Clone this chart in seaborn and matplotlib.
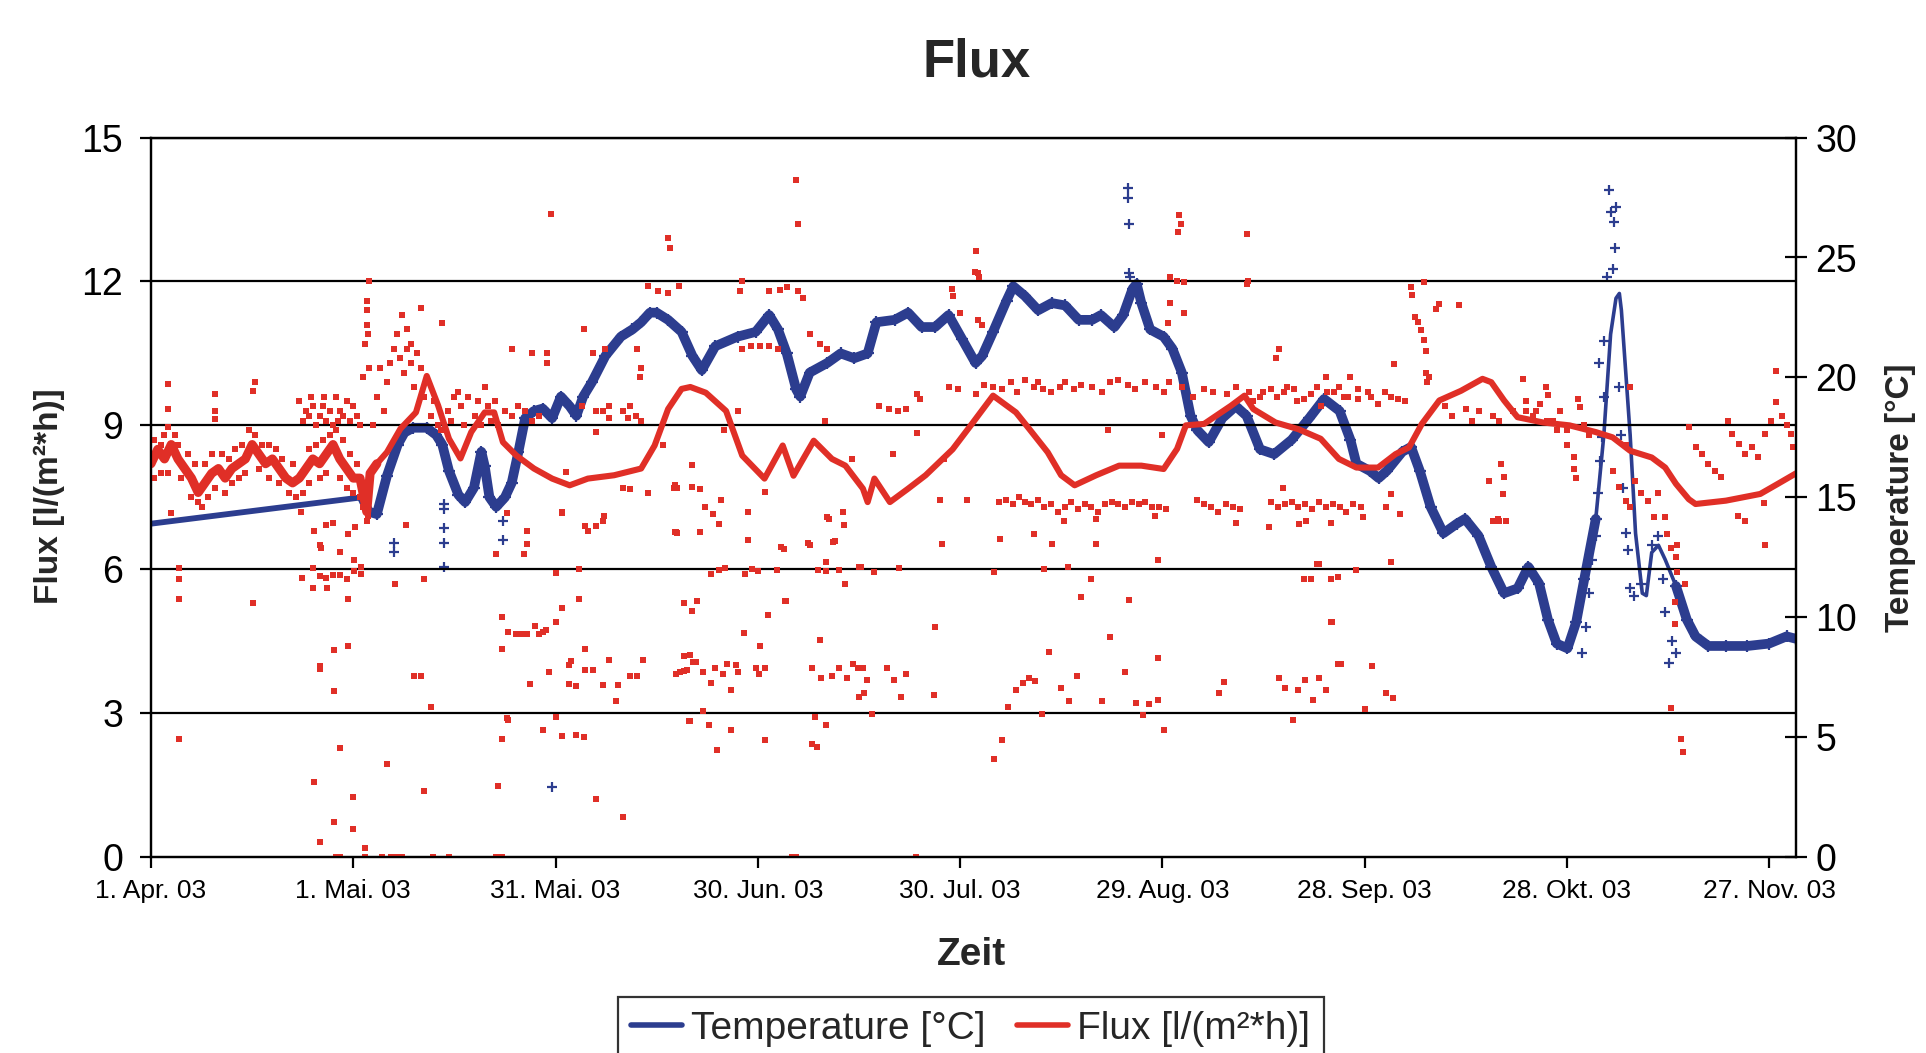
import numpy as np
import pandas as pd
import matplotlib
matplotlib.use("Agg")
import matplotlib.pyplot as plt
import seaborn as sns
from matplotlib.lines import Line2D

sns.set_theme(style="white")
plt.rcParams['font.family'] = ['Liberation Sans', 'DejaVu Sans']

# ---------------- data (x = days since 1 Apr 2003) ----------------
x_tick_days = [0, 30, 60, 90, 120, 150, 180, 210, 240]
x_tick_labels = ['1. Apr. 03', '1. Mai. 03', '31. Mai. 03', '30. Jun. 03', '30. Jul. 03',
                 '29. Aug. 03', '28. Sep. 03', '28. Okt. 03', '27. Nov. 03']
flux_ticks = [0, 3, 6, 9, 12, 15]
temp_ticks = [0, 5, 10, 15, 20, 25, 30]

# smoothed temperature line [°C]
temp_line_day = [0, 31.3, 32.3, 33.5, 35, 36.6, 37.6, 38.9, 40.9, 42.3, 43.2, 44.2, 45.6, 46.6, 47.9,
                 49, 49.5, 50.2, 51.2, 52.5, 53.5, 54.5, 55.5, 56.8, 58.1, 59.5, 60.8, 62.1, 63.1, 64.1,
                 65.4, 67.4, 69.7, 71.4, 72.7, 74, 75, 76.7, 78.7, 80.3, 81.7, 83.7, 87, 89.7, 91.7, 93,
                 94.3, 95.7, 96.3, 97.7, 100.3, 102.3, 104.3, 106.3, 107.6, 110.3, 112.3, 114.3, 116.3,
                 118.3, 120.3, 122.3, 123.3, 124.9, 126.9, 127.9, 129.6, 131.6, 133.6, 135.6, 137.6,
                 139.6, 140.9, 142.9, 144.2, 145.6, 146.2, 146.9, 148.2, 150.2, 151.5, 152.9, 154.2,
                 155.2, 156.9, 158.9, 160.9, 162.5, 164.5, 166.6, 169.2, 171.8, 174, 176.3, 177.9, 178.8,
                 180.8, 182.1, 183.3, 185.6, 186.9, 188.2, 189.8, 191.7, 193.7, 194.9, 196.9, 198.8,
                 200.7, 202.7, 204.3, 205.9, 207.2, 208.5, 210.1, 211.4, 212.6, 214.3, 215.5, 216.5,
                 217.3, 217.8, 218.1, 218.8, 219.4, 220.2, 221.2, 221.8, 222.6, 223.6, 224.6, 226.2,
                 227.8, 229.1, 231, 233.6, 236.8, 240, 242.6, 244]
temp_line_val = [13.9, 15.0, 14.4, 14.3, 15.9, 17.2, 17.7, 17.9, 17.9, 17.6, 17.2, 16.1, 15.1, 14.8, 15.4,
                 16.9, 16.3, 15.0, 14.6, 15.0, 15.6, 16.9, 18.3, 18.6, 18.7, 18.3, 19.2, 18.8, 18.4, 19.2,
                 19.8, 20.9, 21.7, 22.0, 22.3, 22.7, 22.7, 22.4, 21.9, 20.9, 20.3, 21.3, 21.7, 21.9, 22.6,
                 22.0, 21.0, 19.5, 19.2, 20.2, 20.6, 21.0, 20.8, 21.0, 22.3, 22.4, 22.7, 22.1, 22.1,
                 22.6, 21.6, 20.6, 20.9, 21.9, 23.2, 23.8, 23.4, 22.8, 23.1, 23.0, 22.4,
                 22.4, 22.6, 22.1, 22.6, 23.7, 23.9, 23.1, 22.0, 21.7, 21.2, 20.2, 18.4,
                 17.8, 17.3, 18.3, 18.8, 18.4, 17.0, 16.8, 17.4, 18.3, 19.1, 18.6, 17.4, 16.4,
                 16.1, 15.8, 16.1, 16.9, 17.1, 16.1, 14.6, 13.5, 13.9, 14.1, 13.4, 12.1,
                 11.0, 11.2, 12.1, 11.4, 9.9, 8.9, 8.7, 9.8, 11.6, 14.1, 17.6, 21.8,
                 23.3, 23.5, 22.8, 20.0, 17.6, 13.5, 11.0, 10.9, 12.7, 13.0, 12.4, 11.3,
                 9.9, 9.2, 8.8, 8.8, 8.8, 8.9, 9.2, 9.1]

# raw temperature readings that leave the band
temp_pts_day = [36, 36, 43.4, 43.4, 43.4, 43.4, 43.4, 52.2, 52.2, 59.5, 144.9, 144.9, 145.0, 145.0, 145.2,
                212.3, 212.8, 213.3, 213.8, 214.3, 214.6, 215.0, 215.2, 215.5, 214.8, 215.5, 215.9, 216.2,
                216.5, 217.3, 217.0, 217.2, 216.8, 217.8, 218.1, 218.4, 218.8, 219.1, 219.4, 220.0, 221.0,
                222.6, 223.6, 224.2, 224.6, 225.2, 226.2, 225.6]
temp_pts_val = [13.1, 12.7, 14.7, 14.5, 13.7, 13.1, 12.1, 14.0, 13.2, 2.9, 27.9, 27.5, 26.4, 24.35, 24.2,
                8.5, 9.6, 11.0, 12.4, 13.4, 15.2, 16.5, 17.5, 19.2, 20.6, 21.5, 24.2, 27.8,
                26.9, 27.1, 26.5, 25.4, 24.5, 19.6, 17.6, 15.4, 13.5, 12.8, 11.2, 10.9, 11.4,
                13.0, 13.4, 11.6, 10.2, 8.1, 8.5, 9.0]

# smoothed flux line [l/(m²*h)]
flux_line_day = [0, 1, 2, 3, 4, 5, 6, 7, 8, 9, 10, 11, 12, 13, 14, 15, 16, 17, 18, 19, 20, 21, 22, 23, 24,
                 25, 26, 27, 28, 29, 30, 31, 32, 32.5, 33.5, 35, 37, 39.3, 40.9, 42.6, 44.2, 45.9, 47.5,
                 49.5, 50.9, 52.2, 54.2, 56.8, 59.5, 62.1, 64.8, 68.7, 72.7, 74.7, 76.7, 78.7, 80, 82.3,
                 85.3, 87.7, 91, 93.7, 95.3, 98.3, 101, 103, 105.6, 106.3, 107.3, 109.6, 112.3, 114.9,
                 118.9, 121.6, 124.9, 128.3, 130.3, 133, 135, 137, 140.2, 143.6, 146.9, 150.2, 152.2,
                 153.5, 156.2, 160.2, 162.2, 163.5, 166.8, 170.2, 173.5, 176.2, 178.8, 182, 184.6,
                 186.6, 188.5, 191.1, 194.3, 197.5, 198.8, 200.7, 202.7, 206.5, 210.4, 214.3, 216.8,
                 219.4, 222.6, 224.6, 226.2, 228.1, 229.1, 233.6, 238.7, 241.3, 244]
flux_line_val = [8.2, 8.5, 8.3, 8.6, 8.3, 8.1, 7.9, 7.6, 7.8, 8.0, 8.1, 7.9, 8.1, 8.2, 8.3, 8.6, 8.4, 8.2,
                 8.3, 8.1, 7.9, 7.8, 7.9, 8.1, 8.3, 8.2, 8.4, 8.6, 8.3, 8.1, 7.9, 7.9, 7.2, 8.0, 8.2,
                 8.44, 8.93, 9.27, 10.03, 9.41, 8.72, 8.31, 8.86, 9.27, 9.27, 8.65, 8.37, 8.1, 7.89,
                 7.75, 7.89, 7.96, 8.1, 8.58, 9.34, 9.76, 9.8, 9.68, 9.3, 8.37, 7.89, 8.58, 7.95,
                 8.68, 8.3, 8.16, 7.68, 7.4, 7.89, 7.4, 7.68, 7.96, 8.5, 9.0, 9.62, 9.27, 8.92, 8.44,
                 7.96, 7.75, 7.96, 8.16, 8.16, 8.09, 8.51, 9.0, 9.03, 9.41, 9.62, 9.34, 9.06, 8.92,
                 8.72, 8.3, 8.12, 8.12, 8.4, 8.54, 9.03, 9.52, 9.72, 9.97, 9.9, 9.52, 9.17, 9.06, 9.0,
                 8.86, 8.75, 8.47, 8.33, 8.12, 7.78, 7.46, 7.36, 7.43, 7.57, 7.78, 8.0]

# single flux readings (scatter)
flux_pts_day = [
    0.5, 1.5, 2, 3.5, 4, 5.5, 6.5, 8, 9, 10.5, 11.5, 12.5, 13.5, 14.5, 15.5, 16.5, 17.5, 18.5, 19.5, 21,
    23.5, 24.5, 25.5, 26.5, 27.5, 28.5, 29.5, 30.5,
    0.5, 1.5, 2.5, 4.5, 6, 7, 7.5, 8.5, 9.5, 11, 12, 13, 14, 16, 17.5, 19, 20.5, 21.5, 22.5, 23.5, 25, 26,
    28, 29, 30, 31, 31.5, 32, 32.2,
    22.5, 23, 23.5, 24, 24.5, 25, 25.5, 26, 26.5, 27, 28, 28.5, 29, 29.5, 30, 30.5, 31, 27.5, 23.7,
    33, 33.5, 34, 34.5, 35, 35.5, 36, 36.5, 37, 37.5, 38, 38.5, 39, 39.5, 40, 40.5, 41, 41.5, 42, 42.5,
    43, 44, 44.5, 45, 46, 46.5, 47, 48, 48.5, 49, 50, 50.5, 51, 51.5, 52.5, 53.5, 54.5, 55.5, 56.5, 57.5,
    64, 66, 68, 70, 71, 72,
    4.2, 4.2, 4.2, 4.2, 15.2, 22.2, 3, 24.2, 25, 25.2, 26, 27, 28, 29.2, 30.3,
    22.4, 24, 24.1, 25, 26, 26.1, 27, 28, 29, 29.2, 30.1, 30.1, 31.1, 31.2,
    25, 25, 27.2, 29.2, 27.2, 28, 35, 24.2, 30, 27.2, 25, 30, 31.8,
    27.4, 28, 31.8, 34.3, 35.6, 36.3, 37.3, 41.9, 44.2, 51.2, 52,
    37.8, 36.2, 40.5, 39, 40.1, 41.6, 40.5, 51.5, 52, 52, 52,
    53, 54.1, 55.1, 55.8, 56.9, 57.6, 58.1, 58.6,
    51.2, 52.8, 55.4, 55.8, 55.7, 52.8, 53, 56.2, 58.1, 59, 60, 60, 60, 61, 61, 61, 62, 62.3, 62, 63.1,
    63.5, 63.5, 64.4, 64.4, 65.5, 63, 64.2, 66, 67, 69.3, 68, 69, 70, 71, 72.1, 73, 66, 67, 71, 78, 78,
    78.5, 79.5, 79.8, 79, 80.4, 79, 81,
    59.3, 76.7, 77, 32.3, 32, 32, 32.1, 32.2, 40.1, 43.2, 37.3, 37.9, 38.6, 31.7, 32.3, 31.5, 64.2, 53.5,
    56.5, 58.7, 58.7, 67.4, 65.5, 73.7, 75.2, 76.7, 78.3, 72.1, 72.7, 72.5, 2.5, 2.5, 2.5, 9.5, 9.5, 9.5,
    15.4, 15.1, 22, 25.7, 27.7, 45.6, 49.5, 67, 68, 70.7, 72.7, 64.4, 67.2, 61, 64.8, 80.3, 80.3, 77.9,
    73.7, 70, 61.5, 66,
    95.7, 95.9, 122.3, 122.6, 122.2, 122.8, 152.5, 152.8, 152.3, 162.5, 162.7, 162.5, 151.2, 152.2,
    153.2, 151.2, 153.2, 150.9, 87.7, 87.3, 91.7, 93.3, 94.3, 96, 96.7, 118.9, 118.8, 120, 122.6, 123.3,
    113.6, 114, 118.4, 119.7, 122.3, 123.6, 124.9, 126.2, 129.6, 130.9, 132.3, 134.9, 136.9, 139.6,
    142.3, 144.9, 150.2, 152.9, 156.2, 159.6, 162.9, 166.2, 169.6, 172.9, 176.2,
    127.5, 128.5, 131.5, 133.5, 135.5, 138, 141, 143.5, 146, 147.5, 149, 151, 154.5, 157.5, 161, 164.5,
    168, 171, 174.5, 177.5, 179, 181, 183, 185,
    108, 109.5, 110.8, 112, 97.7, 99.3, 100.3, 87.7, 89, 90.3, 91.7, 93,
    125.8, 126.8, 127.8, 128.8, 129.6, 130.5, 131.5, 132.5, 133.5, 134.5, 135.5, 136.5, 137.5, 138.5,
    139.5, 140.5, 141.5, 142.5, 143.5, 144.5, 145.5, 146.5, 147.5, 148.5, 149.5, 150.5, 155.2, 156.2,
    157.3, 158.3, 159.4, 160.5, 161.5, 166.2, 167.2, 168.2, 169.2, 170.2, 171.2, 172.2, 173.2, 174.3,
    175.3, 176.3, 177.3, 178.3, 179.5,
    77.7, 77.7, 81.5, 83.3, 84.3, 88.5, 93.5, 97.5, 100.2, 101.2, 102.8,
    77.6, 81.5, 82.2, 84.5, 88.5, 91, 93.9, 94, 97.8, 100.6, 101.5, 102.6, 117, 121, 117.3, 126, 131,
    133.6, 135.4, 140.2, 140.2, 148.9, 160.9,
    113.6, 117.6, 142, 150, 110, 104, 85, 87, 76, 100,
    83.1, 84.3, 85.1, 88.1, 89.1, 90, 92.8, 99, 100.1, 100.1, 102.1, 103, 105, 105.3, 107.3, 111, 125,
    132.4, 136, 139.4, 149.3, 173.2, 172, 176,
    80.2, 91.5, 88, 90.3, 99.2, 94.2, 116.3, 142.2, 145, 138, 133.2, 175.2, 176.5,
    77.8, 79, 79.9, 80.8, 81.9, 83.1, 83.7, 84.8, 85.5, 86, 86.8, 87, 89.8, 90.2, 91.1, 98, 99.4, 101,
    102.1, 103.2, 104.1, 104.8, 105.6, 106.2, 109.1, 110.2, 112, 105, 105.8, 111.2, 116.1, 127.1, 128.3,
    129.3, 130.3, 131.1, 135, 136.2, 137.4, 141.1, 144.4, 146.1, 148.1, 149.3, 149.3, 158.4, 159.2,
    167.3, 168.2, 170.2, 171.2, 172.3, 173.2, 174.3,
    79.9, 82.8, 84, 86, 81.9, 91, 98, 98.8, 98.5, 100.1, 107, 125.1, 126.3, 132.1, 147.2, 150.2, 169.4,
    95.1, 95.6, 113.4,
    167.9, 165.8, 170.3, 171.3, 175, 179.8, 183.2, 185.2, 184, 199, 200, 201, 200.6, 172.9, 171, 175,
    178.8, 184, 175, 176.1, 181.1, 183.2, 184.2, 180.1, 225.5, 227, 227.2, 227.5, 239.4, 226, 226,
    226.3, 226.3, 235.4, 236.5, 239.2,
    186.9, 187.1, 187.5, 187.9, 188.4, 188.8, 189.1, 188.8, 191.1, 190.6, 194, 189.1, 189.6, 189.2,
    167.3, 166.8, 184.3, 174.3, 177.9,
    203.5, 206.9, 207.2, 211.7, 212, 212.6, 213.3, 211, 211.3, 198.5, 199.8, 200.7, 200.3, 204, 205, 206,
    208, 209, 210, 192, 193, 195, 196, 197, 199, 200, 202,
    216.8, 217.8, 218.8, 219.4, 220.1, 221, 222, 222.9, 223.6, 224.6, 224.9, 225.5, 226.2, 218.8, 219.4,
    228.1, 229.1, 230, 231, 232, 232.9, 233.9, 234.5, 235.5, 236.5, 237.4, 238.4, 239.4, 240.3, 241,
    241, 241.9, 242.6, 243.2, 243.6,
    163.5, 165, 167, 168.5, 170, 172, 173.5, 175.5, 177, 179, 180.5, 182, 184, 186,
    204, 205.5, 207, 208.5, 210, 211]
flux_pts_val = [
    8.7, 8.6, 8.8, 8.8, 8.6, 8.4, 8.2, 8.2, 8.4, 8.4, 8.3, 8.5, 8.6, 8.9, 8.8, 8.6, 8.6, 8.5, 8.3, 8.2,
    8.5, 8.6, 8.7, 8.8, 8.9, 8.7, 8.4, 8.2,
    7.9, 8.0, 8.0, 7.9, 7.5, 7.4, 7.3, 7.5, 7.7, 7.6, 7.8, 7.9, 8.0, 8.1, 7.9, 7.8, 7.6, 7.5, 7.6, 7.8,
    7.9, 8.0, 7.9, 7.7, 7.6, 7.5, 7.3, 7.0, 7.1,
    9.1, 9.3, 9.2, 9.4, 9.0, 9.2, 9.4, 9.1, 9.3, 9.0, 9.3, 9.2, 9.5, 9.1, 9.4, 9.2, 9.0, 9.6, 9.6,
    9.0, 9.6, 10.2, 9.3, 9.9, 10.3, 10.6, 10.9, 10.4, 10.1, 10.6, 10.3, 9.8, 10.5, 10.2, 9.6, 9.9, 9.2,
    9.5, 9.0, 8.9, 9.3, 9.1, 9.6, 9.4, 9.0, 9.6, 9.2, 9.5, 9.0, 9.4, 9.1, 9.5, 9.0, 9.3, 9.2, 9.4, 9.3,
    9.1, 9.2,
    9.4, 9.3, 9.4, 9.3, 9.4, 9.2,
    6.03, 5.79, 5.37, 2.47, 5.29, 7.2, 7.18, 6.8, 6.5, 6.45, 6.92, 6.96, 6.36, 6.73, 6.89,
    5.82, 6.03, 5.6, 5.86, 5.82, 5.6, 5.88, 5.88, 5.79, 5.37, 6.2, 5.97, 6.04, 5.9,
    3.98, 3.92, 4.31, 4.4, 3.46, 2.28, 1.94, 1.57, 1.25, 0.72, 0.31, 0.59, 0.19,
    0, 0, 0, 0, 0, 0, 0, 0, 0, 0, 0,
    6.92, 5.7, 5.79, 3.77, 3.77, 3.12, 1.37, 1.49, 2.47, 4.34, 5.0,
    4.7, 4.66, 4.66, 4.66, 4.82, 4.66, 4.7, 4.73,
    6.31, 7.17, 6.31, 6.52, 6.8, 2.9, 2.85, 3.6, 2.64, 3.86, 5.93, 4.9, 2.92, 5.2, 7.17, 2.52, 4.0, 4.08,
    3.6, 3.56, 5.37, 6.0, 4.34, 3.9, 3.9, 2.55, 2.5, 1.21, 3.58, 3.58, 4.1, 3.25, 0.84, 3.77, 3.77, 4.1,
    6.9, 7.0, 7.67, 6.76, 7.7, 3.85, 3.9, 2.83, 4.2, 4.06, 5.3, 5.34,
    13.4, 12.9, 12.7, 12.0, 11.6, 11.4, 11.1, 10.9, 11.45, 11.13, 11.3, 11.0, 10.7, 10.7, 10.2, 10.0,
    11.0, 10.6, 10.5, 10.3, 10.5, 10.6, 10.5, 11.9, 11.8, 11.75, 11.9, 10.6, 10.2, 10.0, 9.86, 9.34,
    8.96, 9.65, 9.3, 9.14, 9.9, 9.72, 9.5, 9.6, 9.1, 9.7, 9.8, 9.3, 9.15, 9.15, 9.1, 6.9, 7.1, 7.2, 6.8,
    7.72, 8.17, 6.78, 7.6, 7.7, 8.03, 8.86,
    14.11, 13.19, 12.63, 12.18, 12.2, 12.1, 13.39, 13.2, 13.04, 13.0, 12.0, 11.95, 12.1, 12.0, 11.98,
    11.55, 11.35, 11.14, 12.0, 11.8, 11.8, 11.82, 11.88, 11.81, 11.66, 11.7, 11.85, 11.35, 11.2, 11.1,
    9.65, 9.55, 9.8, 9.75, 9.65, 9.85, 9.8, 9.75, 9.95, 9.8, 9.75, 9.8, 9.75, 9.8, 9.9, 9.85, 9.7, 9.8,
    9.75, 9.65, 9.7, 9.75, 9.75, 9.8, 9.8,
    9.9, 9.7, 9.9, 9.7, 9.9, 9.85, 9.7, 9.95, 9.75, 9.9, 9.8, 9.9, 9.6, 9.7, 9.8, 9.6, 9.7, 9.55, 9.7,
    9.6, 9.75, 9.6, 9.7, 9.55,
    9.4, 9.35, 9.3, 9.35, 10.9, 10.7, 10.6, 10.6, 10.65, 10.65, 10.65, 10.6,
    7.4, 7.45, 7.35, 7.5, 7.4, 7.35, 7.45, 7.3, 7.35, 7.2, 7.3, 7.4, 7.25, 7.35, 7.3, 7.2, 7.35, 7.4,
    7.35, 7.3, 7.4, 7.35, 7.4, 7.3, 7.3, 7.25, 7.45, 7.35, 7.3, 7.2, 7.35, 7.3, 7.25, 7.4, 7.3, 7.35,
    7.4, 7.3, 7.35, 7.25, 7.4, 7.3, 7.35, 7.3, 7.2, 7.35, 7.3,
    7.75, 6.78, 6.78, 7.16, 6.95, 6.6, 6.47, 6.54, 7.09, 6.57, 6.92,
    7.7, 7.67, 7.29, 7.45, 7.2, 7.62, 6.43, 5.34, 6.5, 7.04, 6.58, 7.2, 7.45, 7.45, 6.52, 6.64, 6.73,
    6.52, 7.0, 6.52, 7.04, 7.1, 6.97,
    8.85, 8.3, 8.9, 8.8, 8.4, 8.3, 8.9, 9.3, 8.6, 9.1,
    5.9, 5.98, 6.02, 5.9, 6.0, 5.96, 5.98, 5.98, 6.15, 5.96, 5.98, 5.7, 6.05, 6.05, 5.94, 6.02, 5.94,
    6.01, 6.05, 5.79, 6.19, 6.1, 5.8, 5.83,
    5.13, 5.04, 4.68, 4.4, 4.52, 5.34, 4.8, 4.59, 5.36, 5.42, 4.27, 4.89, 4.03,
    3.81, 3.88, 4.22, 4.06, 3.86, 3.62, 3.95, 3.82, 4.03, 3.49, 4.0, 3.86, 3.95, 3.82, 3.95, 3.95, 3.74,
    3.77, 3.95, 3.74, 4.03, 3.95, 3.95, 3.7, 3.95, 3.7, 3.82, 3.33, 3.41, 3.33, 3.37, 3.12, 3.49, 3.62,
    3.74, 3.67, 3.53, 3.25, 3.77, 3.25, 3.86, 3.22, 3.2, 3.28, 4.14, 3.42, 3.65, 3.74, 3.53, 3.49, 3.7,
    3.28, 3.74, 3.49,
    2.83, 2.75, 2.23, 2.64, 3.04, 2.43, 2.35, 2.3, 2.92, 2.75, 2.99, 2.05, 2.43, 2.99, 2.96, 2.64, 2.85,
    0, 0, 0,
    7.7, 6.89, 6.95, 7.0, 6.97, 7.08, 7.29, 7.15, 7.56, 7.0, 7.0, 7.0, 7.56, 6.1, 5.8, 5.8, 5.98, 6.15,
    4.89, 4.02, 3.98, 3.42, 3.32, 3.08, 3.11, 2.47, 2.19, 5.7, 6.5, 4.85, 5.32, 5.95, 6.5, 7.1, 7.0,
    7.38,
    11.88, 11.71, 11.26, 11.15, 10.98, 10.77, 10.56, 11.99, 11.53, 11.43, 11.52, 10.1, 10.0, 9.9, 10.6,
    10.4, 10.28, 10.0, 10.0,
    9.97, 9.8, 9.64, 9.55, 9.38, 9.0, 8.8, 8.1, 7.9, 7.85, 7.05, 7.92, 8.2, 9.3, 9.2, 9.45, 9.1, 9.3,
    8.9, 9.4, 9.2, 9.35, 9.1, 9.3, 9.2, 9.1, 9.3,
    8.05, 7.71, 7.43, 7.29, 7.85, 7.6, 7.43, 7.08, 7.6, 7.08, 6.73, 6.45, 6.25, 8.6, 9.8,
    8.96, 8.54, 8.4, 8.19, 8.05, 7.92, 9.1, 8.82, 8.61, 8.4, 8.54, 8.33, 8.82, 9.1, 9.48, 10.14, 9.2,
    9.0, 8.82, 8.54,
    9.5, 9.7, 9.6, 9.8, 9.5, 9.65, 9.4, 9.7, 9.6, 9.55, 9.7, 9.45, 9.6, 9.5,
    9.5, 9.3, 9.1, 8.9, 8.6, 8.35]

BLUE = '#2c3d8f'
RED = '#e02f27'

# ---------------- figure ----------------
fig = plt.figure(figsize=(19.26, 10.53), dpi=100)
ax = fig.add_axes([151 / 1926, 1 - 857 / 1053, 1645 / 1926, 719.4 / 1053])
ax2 = ax.twinx()

tl = pd.DataFrame({'day': temp_line_day, 'temp': temp_line_val})
tp = pd.DataFrame({'day': temp_pts_day, 'temp': temp_pts_val})
fl = pd.DataFrame({'day': flux_line_day, 'flux': flux_line_val})
fp = pd.DataFrame({'day': flux_pts_day, 'flux': flux_pts_val})

gap = tl[tl['day'] <= 32.3]
band1 = tl[(tl['day'] >= 31.3) & (tl['day'] <= 214.3)]
band2 = tl[tl['day'] >= 226.2]
flux_early = fl[fl['day'] <= 33.5]

# temperature (right axis)
sns.lineplot(data=gap, x='day', y='temp', ax=ax2, color=BLUE, lw=4.2, estimator=None, sort=False)
for seg in (band1, band2):
    sns.lineplot(data=seg, x='day', y='temp', ax=ax2, color=BLUE, lw=7, estimator=None, sort=False,
                 marker='+', markersize=8, markeredgewidth=1.6, markeredgecolor=BLUE)
sns.lineplot(data=tl, x='day', y='temp', ax=ax2, color=BLUE, lw=2.6, estimator=None, sort=False)
sns.scatterplot(data=tp, x='day', y='temp', ax=ax2, color=BLUE, marker='+', s=45, linewidth=1.6)

# flux (left axis)
sns.scatterplot(data=fp, x='day', y='flux', ax=ax, color=RED, marker='s', s=13, linewidth=0)
sns.lineplot(data=flux_early, x='day', y='flux', ax=ax, color=RED, lw=6.5, estimator=None, sort=False)
sns.lineplot(data=fl, x='day', y='flux', ax=ax, color=RED, lw=4.4, estimator=None, sort=False)

# flux on top of temperature
ax.set_zorder(ax2.get_zorder() + 1)
ax.patch.set_visible(False)

# axes limits & grid
ax.set_xlim(0, 244)
ax.set_ylim(0, 15)
ax2.set_ylim(0, 30)
for v in flux_ticks[1:]:
    ax.axhline(v, color='black', lw=1.6, zorder=0)
ax.grid(False)
ax2.grid(False)

narrow = ['Liberation Sans Narrow', 'Liberation Sans', 'DejaVu Sans']
ax.set_xticks(x_tick_days)
ax.set_xticklabels(x_tick_labels, family=narrow, fontsize=19)
ax.set_yticks(flux_ticks)
ax.set_yticklabels([str(v) for v in flux_ticks], family=narrow, fontsize=27)
ax2.set_yticks(temp_ticks)
ax2.set_yticklabels([str(v) for v in temp_ticks], family=narrow, fontsize=27)

ax.tick_params(axis='x', direction='out', length=8, width=1.6, pad=8, colors='black', bottom=True)
ax.tick_params(axis='y', direction='out', length=8, width=1.6, pad=12, colors='black', left=True)
ax2.tick_params(axis='y', direction='inout', length=16, width=1.6, pad=6, colors='black', right=True)
ax2.tick_params(axis='x', bottom=False, top=False)

for a in (ax, ax2):
    for s in a.spines.values():
        s.set_color('black')
        s.set_linewidth(1.6)

ax.set_xlabel('Zeit', fontsize=28, fontweight='bold')
ax.xaxis.set_label_coords(0.499, -0.111)
ax.set_ylabel('Flux [l/(m²*h)]', fontsize=24, fontweight='bold')
ax.yaxis.set_label_coords(-0.052, 0.502)
ax2.set_ylabel('Temperature [°C]', fontsize=24, fontweight='bold', rotation=90)
ax2.yaxis.set_label_coords(1.054, 0.50)

fig.text(0.507, 0.941, 'Flux', ha='center', va='center', fontsize=38, fontweight='bold')

handles = [Line2D([0], [0], color=BLUE, lw=4), Line2D([0], [0], color=RED, lw=4)]
leg = fig.legend(handles, ['Temperature [°C]', 'Flux [l/(m²*h)]'], loc='center',
                 bbox_to_anchor=(0.504, 0.0228), ncol=2, frameon=True, fancybox=False,
                 edgecolor='black', prop={'family': narrow, 'size': 28}, handlelength=1.3,
                 handletextpad=0.25, columnspacing=0.8, borderpad=0.35, borderaxespad=0)
leg.get_frame().set_linewidth(1.6)

fig.savefig('out.png', dpi=100)
